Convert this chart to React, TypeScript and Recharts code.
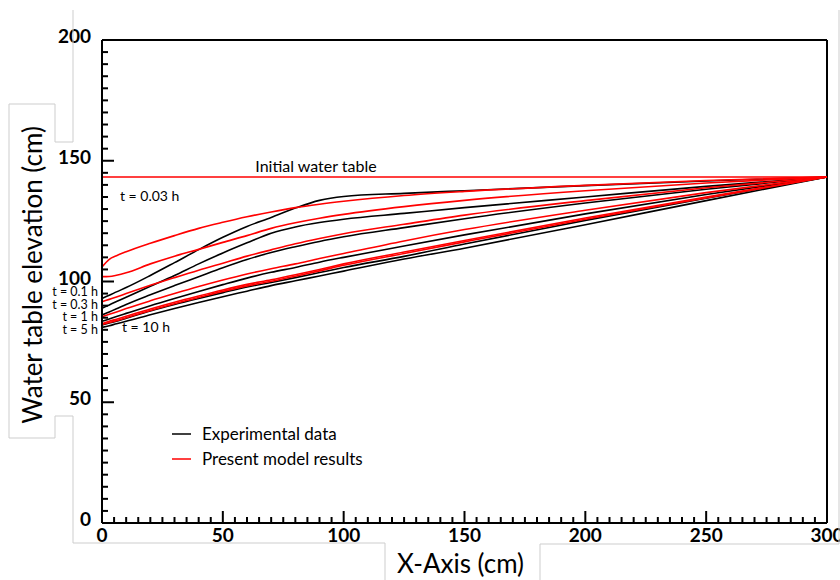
import { LineChart, Line, XAxis, YAxis, ReferenceLine } from "recharts";

// distance along the flume (cm)
const xCm = [0, 3, 6, 10, 20, 30, 40, 50, 60, 70, 80, 90, 100, 125, 150, 200, 250, 300];

// experimental water table (cm), t = 0.03, 0.1, 0.3, 1, 5, 10 h
const exp003 = [93, 94.3, 95.7, 97.5, 102.5, 107.8, 113.2, 118.3, 122.8, 126.5, 130.4, 133.6, 135.2, 136.5, 137.6, 139.7, 141.6, 143.3];
const exp01 = [88.9, 90.3, 91.7, 93.5, 98, 102.5, 107.3, 111.8, 116, 120, 122.6, 124.4, 125.8, 128.2, 130.6, 135, 139.4, 143.3];
const exp03 = [86.1, 87.4, 88.7, 90.5, 94.5, 98.3, 102, 105.7, 109.1, 112, 114.4, 116.6, 118.5, 122.3, 126, 132.5, 138.2, 143.3];
const exp1 = [83.5, 84.5, 85.5, 86.8, 90, 93, 95.9, 98.7, 101.4, 103.8, 105.8, 108, 110, 114.7, 119.3, 128, 136, 143.3];
const exp5 = [82, 82.8, 83.6, 84.8, 87.8, 90.5, 93, 95.4, 97.7, 99.6, 101.6, 103.7, 105.8, 110.4, 115.5, 125.3, 134.5, 143.3];
const exp10 = [81, 81.7, 82.5, 83.5, 86.2, 88.8, 91.3, 93.7, 96, 98.3, 100.3, 102.3, 104.3, 109.3, 113.8, 123.5, 133.5, 143.3];

// model results (cm), same times
const mod003 = [106, 109.2, 110.7, 112.3, 115.8, 119, 122, 124.5, 126.8, 128.8, 130.6, 132, 133.2, 135.6, 137.3, 139.8, 141.8, 143.3];
const mod01 = [102, 102.1, 102.6, 103.6, 107.3, 110.5, 113.3, 116.2, 119, 122, 124.3, 126.2, 127.8, 131, 133.6, 137.6, 140.8, 143.3];
const mod03 = [91.6, 92.6, 93.6, 95, 98.4, 101.6, 104.7, 107.6, 110.5, 113.1, 115.6, 117.8, 119.8, 123.7, 127.5, 133.5, 138.8, 143.3];
const mod1 = [85.4, 86.4, 87.4, 88.8, 92, 95, 97.9, 100.6, 103.1, 105.3, 107.3, 109.5, 111.6, 116.8, 121.5, 129.5, 136.8, 143.3];
const mod5 = [82.5, 83.5, 84.4, 85.6, 88.6, 91.4, 94, 96.5, 98.8, 100.7, 102.8, 105, 107.3, 112.2, 117, 126.3, 135, 143.3];
const mod10 = [82.2, 83, 83.8, 85, 88, 90.8, 93.4, 95.9, 98.2, 100.1, 102.2, 104.4, 106.7, 111.6, 116.4, 125.8, 134.6, 143.3];

const INITIAL_LEVEL = 143.3;

const expSeries = [exp003, exp01, exp03, exp1, exp5, exp10];
const modSeries = [mod003, mod01, mod03, mod1, mod5, mod10];

const xTicks: number[] = [];
for (let v = 0; v <= 300; v += 5) xTicks.push(v);
const yTicks: number[] = [];
for (let v = 0; v <= 200; v += 5) yTicks.push(v);

const rows = xCm.map((x, i) => {
  const row: Record<string, number> = { x };
  expSeries.forEach((s, k) => (row["e" + k] = s[i]));
  modSeries.forEach((s, k) => (row["m" + k] = s[i]));
  return row;
});

const FONT = "Lato, 'Open Sans', sans-serif";
const GRAY = "#cdcdcd";

function YTick(props: any) {
  const { x, y, payload } = props;
  const major = payload.value % 50 === 0;
  return (
    <g>
      <line x1={x} x2={x + (major ? 12 : 6)} y1={y} y2={y} stroke="#000" strokeWidth={2} />
      {major && (
        <text x={x - 11} y={y + 3} textAnchor="end" fontFamily={FONT} fontWeight={700} fontSize={19} fill="#000">
          {payload.value}
        </text>
      )}
    </g>
  );
}

function XTick(props: any) {
  const { x, y, payload } = props;
  const major = payload.value % 50 === 0;
  return (
    <g>
      <line x1={x} x2={x} y1={y} y2={y - (major ? 12 : 6)} stroke="#000" strokeWidth={2} />
      {major && (
        <text x={x} y={y + 19} textAnchor="middle" fontFamily={FONT} fontWeight={700} fontSize={19} fill="#000">
          {payload.value}
        </text>
      )}
    </g>
  );
}

export default function App() {
  return (
    <div style={{ position: "absolute", left: 0, top: 0, width: 840, height: 580, background: "#fff" }}>
      <LineChart width={840} height={580} data={rows} margin={{ top: 40, right: 13, bottom: 56, left: 101 }}>
        <XAxis
          dataKey="x"
          type="number"
          domain={[0, 300]}
          ticks={xTicks}
          interval={0}
          height={1}
          tickSize={0}
          tickMargin={0}
          tick={(p: any) => <XTick {...p} />}
          axisLine={{ stroke: "#000", strokeWidth: 2 }}
          tickLine={false}
        />
        <YAxis
          type="number"
          domain={[0, 200]}
          ticks={yTicks}
          interval={0}
          width={1}
          tickSize={0}
          tickMargin={0}
          tick={(p: any) => <YTick {...p} />}
          axisLine={{ stroke: "#000", strokeWidth: 2 }}
          tickLine={false}
        />
        <ReferenceLine y={200} stroke="#000" strokeWidth={2} />
        <ReferenceLine x={300} stroke="#000" strokeWidth={2} />
        {expSeries.map((_, k) => (
          <Line
            key={"e" + k}
            dataKey={"e" + k}
            type="monotone"
            stroke="#000"
            strokeWidth={1.6}
            dot={false}
            isAnimationActive={false}
          />
        ))}
        {modSeries.map((_, k) => (
          <Line
            key={"m" + k}
            dataKey={"m" + k}
            type="monotone"
            stroke="#ff0000"
            strokeWidth={1.6}
            dot={false}
            isAnimationActive={false}
          />
        ))}
        <ReferenceLine y={INITIAL_LEVEL} stroke="#ff0000" strokeWidth={1.5} />
      </LineChart>
      <svg
        width={840}
        height={580}
        style={{ position: "absolute", left: 0, top: 0, pointerEvents: "none" }}
        fontFamily={FONT}
      >
        <polyline
          points="73,10 73,142 55,142 55,104 9,104 9,438 55,438 55,416 73,416 73,543 385,543 385,580"
          fill="none"
          stroke={GRAY}
          strokeWidth={1}
        />
        <polyline points="540,580 540,544 839,544 839,10" fill="none" stroke={GRAY} strokeWidth={1} />
        <text transform="translate(42,275) rotate(-90)" textAnchor="middle" fontSize={26} fill="#000">
          Water table elevation (cm)
        </text>
        <text x={397} y={573} fontSize={26} fill="#000">
          X-Axis (cm)
        </text>
        <text x={316} y={172} textAnchor="middle" fontSize={16} fill="#000">
          Initial water table
        </text>
        <text x={120} y={201} fontSize={14} fill="#000">t = 0.03 h</text>
        <text x={122} y={332} fontSize={14} fill="#000">t = 10 h</text>
        <text x={98} y={296} textAnchor="end" fontSize={12.5} fill="#000">t = 0.1 h</text>
        <text x={98} y={308.5} textAnchor="end" fontSize={12.5} fill="#000">t = 0.3 h</text>
        <text x={98} y={321} textAnchor="end" fontSize={12.5} fill="#000">t = 1 h</text>
        <text x={98} y={333.5} textAnchor="end" fontSize={12.5} fill="#000">t = 5 h</text>
        <line x1={172} x2={191} y1={434} y2={434} stroke="#000" strokeWidth={1.5} />
        <text x={202} y={440} fontSize={17} fill="#000">Experimental data</text>
        <line x1={172} x2={191} y1={459} y2={459} stroke="#ff0000" strokeWidth={1.5} />
        <text x={202} y={465} fontSize={17} fill="#000">Present model results</text>
      </svg>
    </div>
  );
}
